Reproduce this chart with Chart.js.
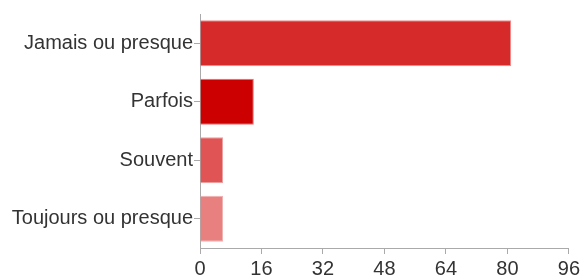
<!DOCTYPE html>
<html>
<head>
<meta charset="utf-8">
<script src="https://cdn.jsdelivr.net/npm/chart.js@4/dist/chart.umd.min.js"></script>
<style>
html,body{margin:0;padding:0;background:#fff;}
#wrap{width:583px;height:278px;position:relative;}
</style>
</head>
<body>
<div id="wrap"><canvas id="c" width="583" height="278"></canvas></div>
<script>
const categories = ["Jamais ou presque", "Parfois", "Souvent", "Toujours ou presque"];
const values = [81, 14, 6, 6];
const barColors = ["#d62a2a", "#cc0000", "#e05456", "#e88080"];
const borderColors = ["#ec8f8f", "#e87070", "#eca0a0", "#f0b0b0"];
const xTicks = [0, 16, 32, 48, 64, 80, 96];

Chart.defaults.font.family = "'Liberation Sans', Arial, sans-serif";
Chart.defaults.font.size = 20;
Chart.defaults.color = "#333";

new Chart(document.getElementById("c"), {
  type: "bar",
  data: {
    labels: categories,
    datasets: [{
      data: values,
      backgroundColor: barColors,
      borderColor: borderColors,
      borderWidth: 1,
      categoryPercentage: 1,
      barPercentage: 0.79
    }]
  },
  options: {
    indexAxis: "y",
    responsive: false,
    animation: false,
    devicePixelRatio: 1,
    layout: { padding: { top: 14, right: 13, left: 0, bottom: 0 } },
    plugins: { legend: { display: false }, tooltip: { enabled: false } },
    scales: {
      x: {
        min: 0, max: 96,
        afterBuildTicks: (s) => { s.ticks = xTicks.map(v => ({ value: v })); },
        afterFit: (s) => { s.height = 30; },
        grid: { drawOnChartArea: false, color: "#aaa", tickLength: 6, lineWidth: 1 },
        border: { color: "#aaa" },
        ticks: { padding: 3, color: "#333", maxRotation: 0 }
      },
      y: {
        afterFit: (s) => { s.width = 200; },
        grid: { drawOnChartArea: false, color: "#aaa", tickLength: 6, offset: false },
        border: { color: "#aaa" },
        ticks: { padding: 1, color: "#333" }
      }
    }
  }
});
</script>
</body>
</html>
